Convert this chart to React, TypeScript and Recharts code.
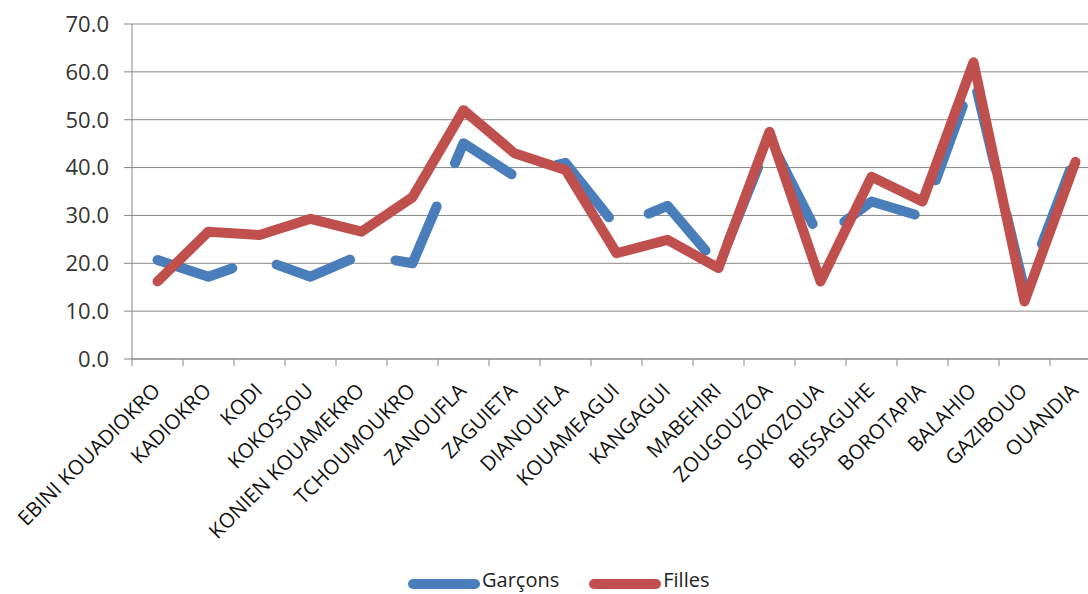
import React from 'react';
import { LineChart, Line, XAxis, YAxis, CartesianGrid, Legend } from 'recharts';

const categories = [
  'EBINI KOUADIOKRO', 'KADIOKRO', 'KODI', 'KOKOSSOU', 'KONIEN KOUAMEKRO', 'TCHOUMOUKRO',
  'ZANOUFLA', 'ZAGUIETA', 'DIANOUFLA', 'KOUAMEAGUI', 'KANGAGUI', 'MABEHIRI', 'ZOUGOUZOA',
  'SOKOZOUA', 'BISSAGUHE', 'BOROTAPIA', 'BALAHIO', 'GAZIBOUO', 'OUANDIA',
];
const garcons = [20.7, 17.2, 21.0, 17.2, 21.8, 20.0, 45.1, 38.2, 41.0, 27.6, 32.0, 19.5, 46.0, 25.0, 32.9, 29.7, 59.0, 14.5, 42.5];
const filles = [16.2, 26.6, 25.9, 29.3, 26.6, 33.8, 52.0, 43.0, 39.5, 22.1, 24.9, 19.0, 47.5, 16.2, 38.1, 32.9, 62.0, 12.0, 41.2];
const yTicks = [0, 10, 20, 30, 40, 50, 60, 70];
const seriesNames = ['Garçons', 'Filles'];

const data = categories.map((name, i) => ({ name, garcons: garcons[i], filles: filles[i] }));

const FONT = '"Open Sans", "DejaVu Sans", sans-serif';
const GRAY = '#878787';
const BLUE = '#4a7ebb';
const RED = '#c0504d';

const CHART_W = 1110;
const CHART_H = 594;
const M_LEFT = 72;
const Y_W = 60;
const M_RIGHT = 9;
const PLOT_W = CHART_W - M_LEFT - Y_W - M_RIGHT;
const BAND = PLOT_W / categories.length;

const XTick = (props: any) => {
  const { x, y, payload } = props;
  const half = BAND / 2;
  const tx = x + 4;
  const ty = y + 33;
  return (
    <g>
      <line x1={x - half} y1={y} x2={x - half} y2={y + 7} stroke={GRAY} strokeWidth={1} />
      <text
        x={tx}
        y={ty}
        transform={`rotate(-45, ${tx}, ${ty})`}
        textAnchor="end"
        fontFamily={FONT}
        fontSize={20.5}
        fill="#111"
      >
        {payload.value}
      </text>
    </g>
  );
};

const LegendContent = (props: any) => {
  const payload = [...(props.payload || [])].sort(
    (a: any, b: any) => seriesNames.indexOf(a.value) - seriesNames.indexOf(b.value)
  );
  return (
    <div style={{ display: 'flex', alignItems: 'center', fontFamily: FONT, fontSize: 20, color: '#222', height: 20 }}>
      {payload.map((entry: any, i: number) => (
        <div key={i} style={{ display: 'flex', alignItems: 'center', marginRight: i === 0 ? 30 : 0 }}>
          <svg width={72} height={14} style={{ marginTop: 7 }}>
            <line x1={5} y1={7} x2={67} y2={7} stroke={entry.color} strokeWidth={10} strokeLinecap="round" />
          </svg>
          <span style={{ marginLeft: 2, lineHeight: '20px' }}>{entry.value}</span>
        </div>
      ))}
    </div>
  );
};

export default function App() {
  return (
    <div style={{ position: 'absolute', left: 0, top: 0, width: 1088, height: 594, overflow: 'hidden', background: '#fff' }}>
      <LineChart
        width={CHART_W}
        height={CHART_H}
        data={data}
        margin={{ top: 24, right: M_RIGHT, bottom: 35, left: M_LEFT }}
      >
        <CartesianGrid vertical={false} stroke={GRAY} strokeWidth={1} />
        <XAxis
          dataKey="name"
          interval={0}
          height={200}
          padding={{ left: BAND / 2, right: BAND / 2 }}
          axisLine={{ stroke: GRAY }}
          tickLine={false}
          tickSize={0}
          tickMargin={0}
          tick={<XTick />}
        />
        <YAxis
          width={Y_W}
          domain={[0, 70]}
          ticks={yTicks}
          interval={0}
          tickFormatter={(v: number) => v.toFixed(1)}
          axisLine={{ stroke: GRAY }}
          tickLine={{ stroke: GRAY }}
          tickSize={8}
          tickMargin={15}
          tick={{ fontFamily: FONT, fontSize: 22, fill: '#333' }}
        />
        <Legend
          layout="horizontal"
          verticalAlign="middle"
          align="center"
          content={<LegendContent />}
          wrapperStyle={{ left: 408, top: 570, width: 'auto' }}
        />
        <Line
          type="linear"
          dataKey="garcons"
          name={seriesNames[0]}
          stroke={BLUE}
          strokeWidth={10}
          strokeDasharray="79 47"
          strokeLinecap="round"
          strokeLinejoin="round"
          dot={false}
          activeDot={false}
          isAnimationActive={false}
        />
        <Line
          type="linear"
          dataKey="filles"
          name={seriesNames[1]}
          stroke={RED}
          strokeWidth={10}
          strokeLinecap="round"
          strokeLinejoin="round"
          dot={false}
          activeDot={false}
          isAnimationActive={false}
        />
      </LineChart>
    </div>
  );
}
